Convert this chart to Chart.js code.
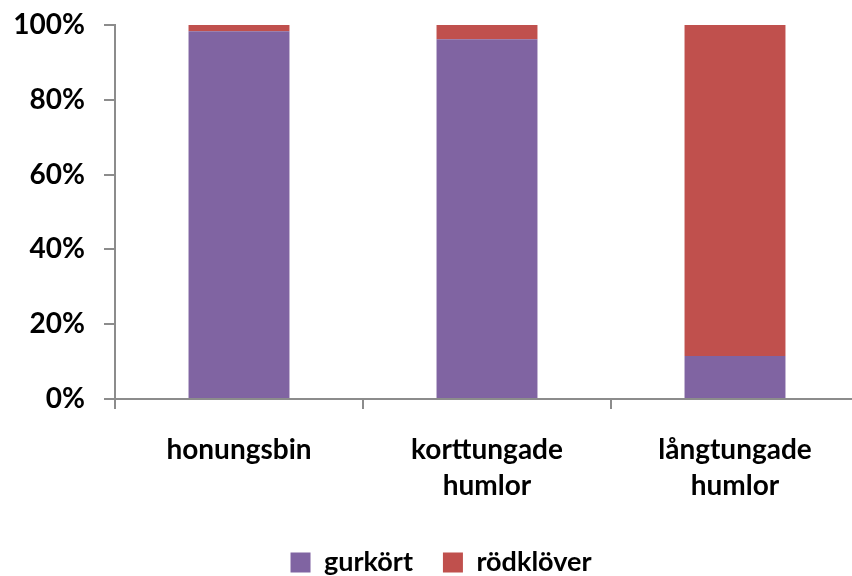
<!DOCTYPE html>
<html>
<head>
<meta charset="utf-8">
<script src="https://cdn.jsdelivr.net/npm/chart.js@4"></script>
<style>
html,body{margin:0;padding:0;background:#fff;overflow:hidden;}
#wrap{width:882px;height:576px;}
</style>
</head>
<body>
<div id="wrap"><canvas id="c" width="882" height="576"></canvas></div>
<script>
const categories = [["honungsbin"], ["korttungade", "humlor"], ["långtungade", "humlor"]];
const seriesNames = ["gurkört", "rödklöver"];
const gurkort = [98.3, 96.2, 11.5];
const rodklover = [1.7, 3.8, 88.5];
const yTicks = [0, 20, 40, 60, 80, 100];

const FONT = "Lato, 'Open Sans', sans-serif";
const axisColor = "#8c8c8c";

const legendShift = {
  id: 'legendShift',
  afterLayout(chart) {
    if (chart.legend) { chart.legend.left += 11.5; chart.legend.right += 11.5; }
  }
};

new Chart(document.getElementById('c'), {
  type: 'bar',
  data: {
    labels: categories,
    datasets: [
      { label: seriesNames[0], data: gurkort, backgroundColor: '#8064A2', borderWidth: 0 },
      { label: seriesNames[1], data: rodklover, backgroundColor: '#C0504D', borderWidth: 0 }
    ]
  },
  plugins: [legendShift],
  options: {
    responsive: false,
    animation: false,
    events: [],
    layout: { padding: { top: 25, right: 23, left: 0, bottom: -10 } },
    datasets: { bar: { categoryPercentage: 1.0, barPercentage: 0.407 } },
    plugins: {
      tooltip: { enabled: false },
      legend: {
        position: 'bottom',
        labels: {
          font: { family: FONT, size: 27, weight: 'bold' },
          color: '#000',
          boxWidth: 20,
          boxHeight: 20,
          padding: 30
        }
      }
    },
    scales: {
      x: {
        stacked: true,
        border: { display: true, color: axisColor, width: 2 },
        grid: { display: true, drawOnChartArea: false, drawTicks: true, tickLength: 10, color: axisColor, lineWidth: 2, offset: true },
        ticks: { font: { family: FONT, size: 28, weight: 'bold', lineHeight: 1.32 }, color: '#000', padding: 22, maxRotation: 0, autoSkip: false },
        afterFit: (s) => { s.height = 120; }
      },
      y: {
        stacked: true,
        min: 0, max: 100,
        afterBuildTicks: (s) => { s.ticks = yTicks.map(v => ({ value: v })); },
        border: { display: true, color: axisColor, width: 2 },
        grid: { display: true, drawOnChartArea: false, drawTicks: true, tickLength: 11, color: axisColor, lineWidth: 2 },
        ticks: { font: { family: FONT, size: 28, weight: 'bold' }, color: '#000', padding: 19, callback: (v) => v + '%' },
        afterFit: (s) => { s.width = 115; s.paddingTop = 0; s.paddingBottom = 0; }
      }
    }
  }
});
</script>
</body>
</html>
